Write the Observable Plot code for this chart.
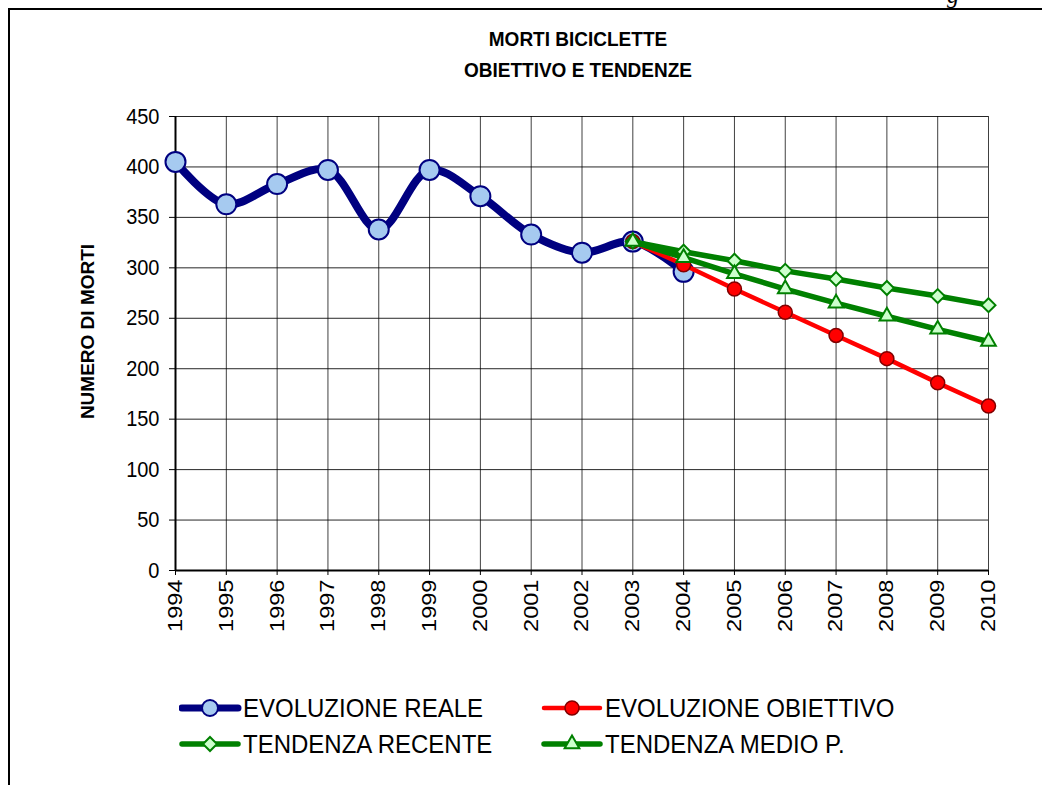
<!DOCTYPE html>
<html>
<head>
<meta charset="utf-8">
<script src="https://cdn.jsdelivr.net/npm/d3@7"></script>
<script src="https://cdn.jsdelivr.net/npm/@observablehq/plot@0.6"></script>
<style>
  html, body { margin: 0; padding: 0; background: #fff; }
  body { width: 1042px; height: 785px; position: relative; overflow: hidden; font-family: "Liberation Sans", Arial, sans-serif; }
  #frame { position: absolute; left: 8px; top: 8px; width: 1100px; height: 800px; border-left: 2px solid #000; border-top: 2px solid #000; }
  #hdr { position: absolute; left: 947px; top: -18px; font-family: "Liberation Serif", serif; font-style: italic; font-size: 24px; }
  #title { position: absolute; left: 378px; top: 27px; width: 400px; text-align: center; font-weight: bold; font-size: 19px; line-height: 28px; color: #000; transform: scaleY(1.1); }
  #chart { position: absolute; left: 0; top: 100px; }
  #legend { position: absolute; left: 0; top: 0; }
  .li { position: absolute; display: flex; align-items: center; font-size: 24px; height: 30px; white-space: nowrap; }
  .li span { display: inline-block; transform: scaleY(1.08); }
  .li svg { display: block; flex: none; }
</style>
</head>
<body>
<div id="frame"></div>
<div id="hdr">g</div>
<div id="title">MORTI BICICLETTE<br>OBIETTIVO E TENDENZE</div>
<div id="chart"></div>
<div id="legend"></div>
<script>
// ---- data ----
const xTicks = [1994,1995,1996,1997,1998,1999,2000,2001,2002,2003,2004,2005,2006,2007,2008,2009,2010];
const yTicks = [0,50,100,150,200,250,300,350,400,450];
const realYears = [1994,1995,1996,1997,1998,1999,2000,2001,2002,2003,2004];
const realValues = [405,363,383,397,338,397,371,333,315,326,296];
const projYears = [2003,2004,2005,2006,2007,2008,2009,2010];
const obiettivoValues = [326,303,279,256,233,210,186,163];
const recenteValues = [326,316,307,297,289,280,272,263];
const medioValues = [326,310,294,279,265,252,239,227];
const seriesNames = ["EVOLUZIONE REALE","EVOLUZIONE OBIETTIVO","TENDENZA RECENTE","TENDENZA MEDIO P."];

const real = realYears.map((x,i)=>({x, y: realValues[i]}));
const obiettivo = projYears.map((x,i)=>({x, y: obiettivoValues[i]}));
const recente = projYears.map((x,i)=>({x, y: recenteValues[i]}));
const medio = projYears.map((x,i)=>({x, y: medioValues[i]}));

const NAVY = "#000080", LBLUE = "#A6CAF0", RED = "#FF0000", DRED = "#800000", GREEN = "#008000", LGREEN = "#CCFFCC";

const chart = Plot.plot({
  width: 1042, height: 540,
  marginLeft: 175, marginRight: 54, marginTop: 16, marginBottom: 70,
  style: { fontFamily: "'Liberation Sans', Arial, sans-serif", fontSize: "19px", background: "transparent", overflow: "visible", color: "#000" },
  x: { domain: [1994, 2010], label: null },
  y: { domain: [0, 450], label: null },
  marks: [
    Plot.gridX(xTicks, { stroke: "#000", strokeOpacity: 0.75, strokeWidth: 1 }),
    Plot.gridY(yTicks, { stroke: "#000", strokeOpacity: 0.85, strokeWidth: 1 }),
    Plot.axisY(yTicks, { tickSize: 6, tickPadding: 10, label: null, fontSize: 20, tickFormat: d => String(d), stroke: "#000", className: "yax" }),
    Plot.axisX(xTicks, { tickSize: 5, tickPadding: 4, tickRotate: -90, label: null, fontSize: 20, tickFormat: d => String(d), stroke: "#000", className: "xax" }),
    Plot.ruleX([1994], { stroke: "#000", strokeWidth: 2 }),
    Plot.ruleY([0], { stroke: "#000", strokeWidth: 2 }),
    Plot.text(["NUMERO DI MORTI"], { frameAnchor: "left", textAnchor: "middle", dx: -88, dy: -12, rotate: -90, fontWeight: "bold", fontSize: 19, fill: "#000" }),
    Plot.line(real, { x: "x", y: "y", stroke: NAVY, strokeWidth: 8, curve: "catmull-rom" }),
    Plot.dot(real, { x: "x", y: "y", r: 10, fill: LBLUE, stroke: NAVY, strokeWidth: 2 }),
    Plot.line(obiettivo, { x: "x", y: "y", stroke: RED, strokeWidth: 4.5 }),
    Plot.dot(obiettivo, { x: "x", y: "y", r: 7, fill: RED, stroke: DRED, strokeWidth: 1.5 }),
    Plot.line(recente, { x: "x", y: "y", stroke: GREEN, strokeWidth: 5.5 }),
    Plot.dot(recente, { x: "x", y: "y", symbol: "diamond2", r: 6.3, fill: LGREEN, stroke: GREEN, strokeWidth: 2 }),
    Plot.line(medio, { x: "x", y: "y", stroke: GREEN, strokeWidth: 5.5 }),
    Plot.dot(medio, { x: "x", y: "y", symbol: "triangle2", r: 7, fill: LGREEN, stroke: GREEN, strokeWidth: 2 })
  ]
});
document.getElementById("chart").appendChild(chart);

// stretch tick labels slightly along the vertical, as in the reference rendering
d3.select(chart).selectAll("g.xax text").each(function() {
  const t = this.getAttribute("transform") || "";
  this.setAttribute("transform", t + " scale(1.18,1)");
});
d3.select(chart).selectAll("g.yax text").each(function() {
  const t = this.getAttribute("transform") || "";
  this.setAttribute("transform", t + " scale(1,1.1)");
});

// ---- legend ----
const legendSpec = [
  { name: seriesNames[0], left: 179, top: 693, color: NAVY, lw: 7, sym: d3.symbolCircle, size: Math.PI*8*8, fill: LBLUE, stroke: NAVY, sw: 2 },
  { name: seriesNames[1], left: 541, top: 693, color: RED, lw: 4.5, sym: d3.symbolCircle, size: Math.PI*7*7, fill: RED, stroke: DRED, sw: 1.5 },
  { name: seriesNames[2], left: 179, top: 729, color: GREEN, lw: 5.5, sym: d3.symbolDiamond2, size: Math.PI*6.3*6.3, fill: LGREEN, stroke: GREEN, sw: 2 },
  { name: seriesNames[3], left: 541, top: 729, color: GREEN, lw: 5.5, sym: d3.symbolTriangle2, size: Math.PI*7*7, fill: LGREEN, stroke: GREEN, sw: 2 }
];
const legend = document.getElementById("legend");
for (const s of legendSpec) {
  const div = document.createElement("div");
  div.className = "li";
  div.style.left = s.left + "px";
  div.style.top = s.top + "px";
  const svg = d3.create("svg").attr("width", 64).attr("height", 30);
  svg.append("line").attr("x1", 3).attr("x2", 59).attr("y1", 15).attr("y2", 15)
    .attr("stroke", s.color).attr("stroke-width", s.lw).attr("stroke-linecap", "round");
  svg.append("path").attr("transform", "translate(31,15)")
    .attr("d", d3.symbol(s.sym, s.size)())
    .attr("fill", s.fill).attr("stroke", s.stroke).attr("stroke-width", s.sw);
  div.appendChild(svg.node());
  const span = document.createElement("span");
  span.textContent = s.name;
  div.appendChild(span);
  legend.appendChild(div);
}
</script>
</body>
</html>
